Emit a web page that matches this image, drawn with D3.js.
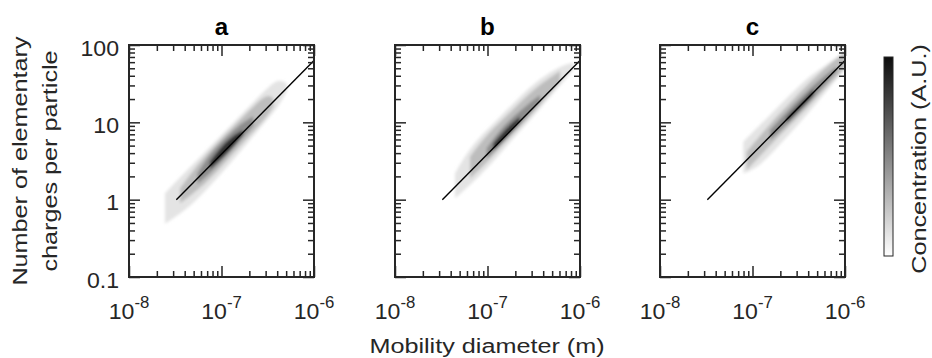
<!DOCTYPE html>
<html>
<head>
<meta charset="utf-8">
<script src="https://cdn.jsdelivr.net/npm/d3@7"></script>
<style>
  body { margin: 0; background: #fff; }
  svg { display: block; font-family: "Liberation Sans", Arial, sans-serif; }
</style>
</head>
<body>
<svg id="chart" width="932" height="358"></svg>
<script>
// values
const panelTitles = ["a", "b", "c"];
const yTicks = [0.1, 1, 10, 100];
const yTickLabels = ["0.1", "1", "10", "100"];
const xTicks = [1e-8, 1e-7, 1e-6];
const xTickExponents = ["-8", "-7", "-6"];

// power-law fit, identical in the three panels: [diameter (m), charges]
const fitLine = [[3.25e-8, 1], [1e-6, 63]];

// concentration contours, outermost level first
// each row: [diameter (m), lower charges, upper charges]
const cloudA = [
  [[2.45e-8, 0.49, 1.21], [3.86e-8, 0.70, 2.15], [5.86e-8, 1.09, 3.52], [8.87e-8, 1.88, 5.9],
   [1.34e-7, 3.25, 9.8], [2.03e-7, 5.9, 16.4], [3.08e-7, 10.7, 27.2], [4.11e-7, 15.9, 37.1], [5.07e-7, 24.9, 31.9]],
  [[3.56e-8, 0.90, 1.40], [5.86e-8, 1.40, 3.10], [8.87e-8, 2.30, 5.35], [1.34e-7, 3.97, 8.77],
   [2.03e-7, 6.85, 14.4], [3.08e-7, 11.8, 23.7], [3.63e-7, 15.9, 20.4]],
  [[5.5e-8, 1.6, 2.2], [7.5e-8, 2.2, 3.9], [1.05e-7, 3.3, 5.9], [1.5e-7, 5.4, 9.0], [2.2e-7, 9.0, 12.0]],
  [[7.5e-8, 2.5, 3.1], [1.0e-7, 3.4, 4.9], [1.3e-7, 4.6, 6.6], [1.7e-7, 6.9, 7.9]]
];
const cloudB = [
  [[4.46e-8, 1.04, 2.20], [6.47e-8, 1.55, 4.7], [9.79e-8, 2.5, 7.9], [1.48e-7, 4.4, 13.0],
   [2.24e-7, 7.7, 21.5], [3.40e-7, 13.3, 34], [5.15e-7, 24, 47], [7.18e-7, 37, 57], [8.48e-7, 48, 59]],
  [[6.47e-8, 1.88, 3.6], [9.79e-8, 3.0, 6.9], [1.48e-7, 5.2, 11.0], [2.24e-7, 8.6, 18.0],
   [3.40e-7, 15.0, 29], [6.08e-7, 33.6, 46]],
  [[9.79e-8, 3.42, 4.60], [1.36e-7, 5.08, 7.94], [1.90e-7, 7.71, 11.8], [2.65e-7, 11.8, 16.7], [3.70e-7, 18.5, 22.5]],
  [[1.16e-7, 4.38, 5.34], [1.61e-7, 6.51, 8.53], [2.24e-7, 10.2, 11.8]]
];
const cloudC = [
  [[7.96e-8, 2.19, 5.61], [1.11e-7, 2.54, 8.36], [1.68e-7, 4.17, 13.7], [2.54e-7, 7.19, 22.5],
   [3.85e-7, 12.4, 37.1], [5.83e-7, 22.5, 52.5], [8.83e-7, 40.9, 74.3], [1.0e-6, 50, 85]],
  [[8.65e-8, 2.42, 4.17], [1.68e-7, 5.61, 10.7], [2.54e-7, 9.22, 17.6], [3.85e-7, 15.2, 30.4],
   [6.89e-7, 31.9, 57.9], [1.0e-6, 50, 80]],
  [[1.55e-7, 5.90, 7.94], [2.54e-7, 10.2, 15.2], [3.85e-7, 16.7, 24.9], [5.83e-7, 28.9, 38.9], [8.12e-7, 45.2, 52.5]],
  [[2.34e-7, 10.0, 11.5], [3.27e-7, 14.9, 17.6], [4.55e-7, 22.5, 26.5]]
];
const clouds = [cloudA, cloudB, cloudC];
const contourGrays = ["#e4e4e4", "#bdbdbd", "#8c8c8c", "#2e2e2e"];
const colorbarStops = [[0, "#0d0d0d"], [0.2, "#3c3c3c"], [0.5, "#858585"], [0.8, "#cdcdcd"], [1, "#ffffff"]];

// layout
const panelX = [129, 395, 660];
const panelTop = 45;
const panelW = 185, panelH = 232;
const axisColor = "#262626";

const svg = d3.select("#chart");
const x = d3.scaleLog().domain([1e-8, 1e-6]).range([0, panelW]);
const y = d3.scaleLog().domain([0.1, 100]).range([panelH, 0]);

const minorX = d3.range(-8, -6).flatMap(e => d3.range(2, 10).map(m => m * Math.pow(10, e)));
const minorY = d3.range(-1, 2).flatMap(e => d3.range(2, 10).map(m => m * Math.pow(10, e)));

const defs = svg.append("defs");
defs.append("filter").attr("id", "soft")
  .attr("x", "-20%").attr("y", "-20%").attr("width", "140%").attr("height", "140%")
  .append("feGaussianBlur").attr("stdDeviation", 1.7);
defs.append("clipPath").attr("id", "plotClip")
  .append("rect").attr("width", panelW).attr("height", panelH);

const area = d3.area()
  .x(d => x(d[0]))
  .y0(d => y(d[1]))
  .y1(d => y(d[2]))
  .curve(d3.curveBasis);
const line = d3.line().x(d => x(d[0])).y(d => y(d[1]));

// the lettering of the original is a little wider than Arial
function wideText(parent, px, py, str, size, anchor, sx, rotate) {
  const g = parent.append("g")
    .attr("transform", `translate(${px},${py})` + (rotate ? " rotate(-90)" : "") + ` scale(${sx},1)`);
  return g.append("text")
    .attr("text-anchor", anchor)
    .attr("font-size", size)
    .attr("fill", axisColor)
    .text(str);
}

clouds.forEach((cloud, i) => {
  const g = svg.append("g").attr("transform", `translate(${panelX[i]},${panelTop})`);

  g.append("g").attr("clip-path", "url(#plotClip)")
    .append("g").attr("filter", "url(#soft)")
    .selectAll("path")
    .data(cloud)
    .join("path")
    .attr("d", area)
    .attr("fill", (d, k) => contourGrays[k]);

  g.append("path")
    .attr("d", line(fitLine))
    .attr("fill", "none")
    .attr("stroke", "#000")
    .attr("stroke-width", 1.4);

  // inward ticks on all four sides, minor then major
  const sides = [
    [() => d3.axisBottom(x), minorX, xTicks, `translate(0,${panelH})`],
    [() => d3.axisTop(x), minorX, xTicks, "translate(0,0)"],
    [() => d3.axisLeft(y), minorY, yTicks, "translate(0,0)"],
    [() => d3.axisRight(y), minorY, yTicks, `translate(${panelW},0)`]
  ];
  sides.forEach(([makeAxis, minor, major, tr]) => {
    g.append("g").attr("transform", tr)
      .call(makeAxis().tickValues(minor).tickSize(-6).tickFormat(""));
    g.append("g").attr("transform", tr)
      .call(makeAxis().tickValues(major).tickSize(-11).tickFormat(""));
  });
  g.selectAll(".domain").remove();
  g.selectAll(".tick line").attr("stroke", axisColor).attr("stroke-width", 1.5);

  g.append("rect")
    .attr("width", panelW).attr("height", panelH)
    .attr("fill", "none")
    .attr("stroke", axisColor)
    .attr("stroke-width", 2);

  wideText(g, panelW / 2, 35 - panelTop, panelTitles[i], 23, "middle", 1.05)
    .attr("font-weight", "bold")
    .attr("fill", "#000");

  // x tick labels: 10 with a superscript exponent
  xTicks.forEach((v, k) => {
    const t = wideText(g, x(v), panelH + 42, null, 22, "middle", 1.05);
    t.append("tspan").text("10");
    t.append("tspan").attr("font-size", 16).attr("dy", -11).text(xTickExponents[k]);
  });

  if (i === 0) {
    yTicks.forEach((v, k) => wideText(g, -10, y(v) + 10.5, yTickLabels[k], 22, "end", 1.05));
  }
});

// axis titles
wideText(svg, 27, panelTop + panelH / 2, "Number of elementary", 21, "middle", 1.2, true);
wideText(svg, 57, panelTop + panelH / 2, "charges per particle", 21, "middle", 1.2, true);
wideText(svg, (panelX[0] + panelX[2] + panelW) / 2, 353, "Mobility diameter (m)", 21, "middle", 1.2);

// colour bar
const grad = defs.append("linearGradient").attr("id", "cbar")
  .attr("x1", 0).attr("y1", 0).attr("x2", 0).attr("y2", 1);
grad.selectAll("stop").data(colorbarStops).join("stop")
  .attr("offset", d => d[0]).attr("stop-color", d => d[1]);
svg.append("rect")
  .attr("x", 884).attr("y", 57).attr("width", 9).attr("height", 199)
  .attr("fill", "url(#cbar)")
  .attr("stroke", axisColor).attr("stroke-width", 1);
wideText(svg, 926, 159, "Concentration (A.U.)", 21, "middle", 1.2, true);
</script>
</body>
</html>
